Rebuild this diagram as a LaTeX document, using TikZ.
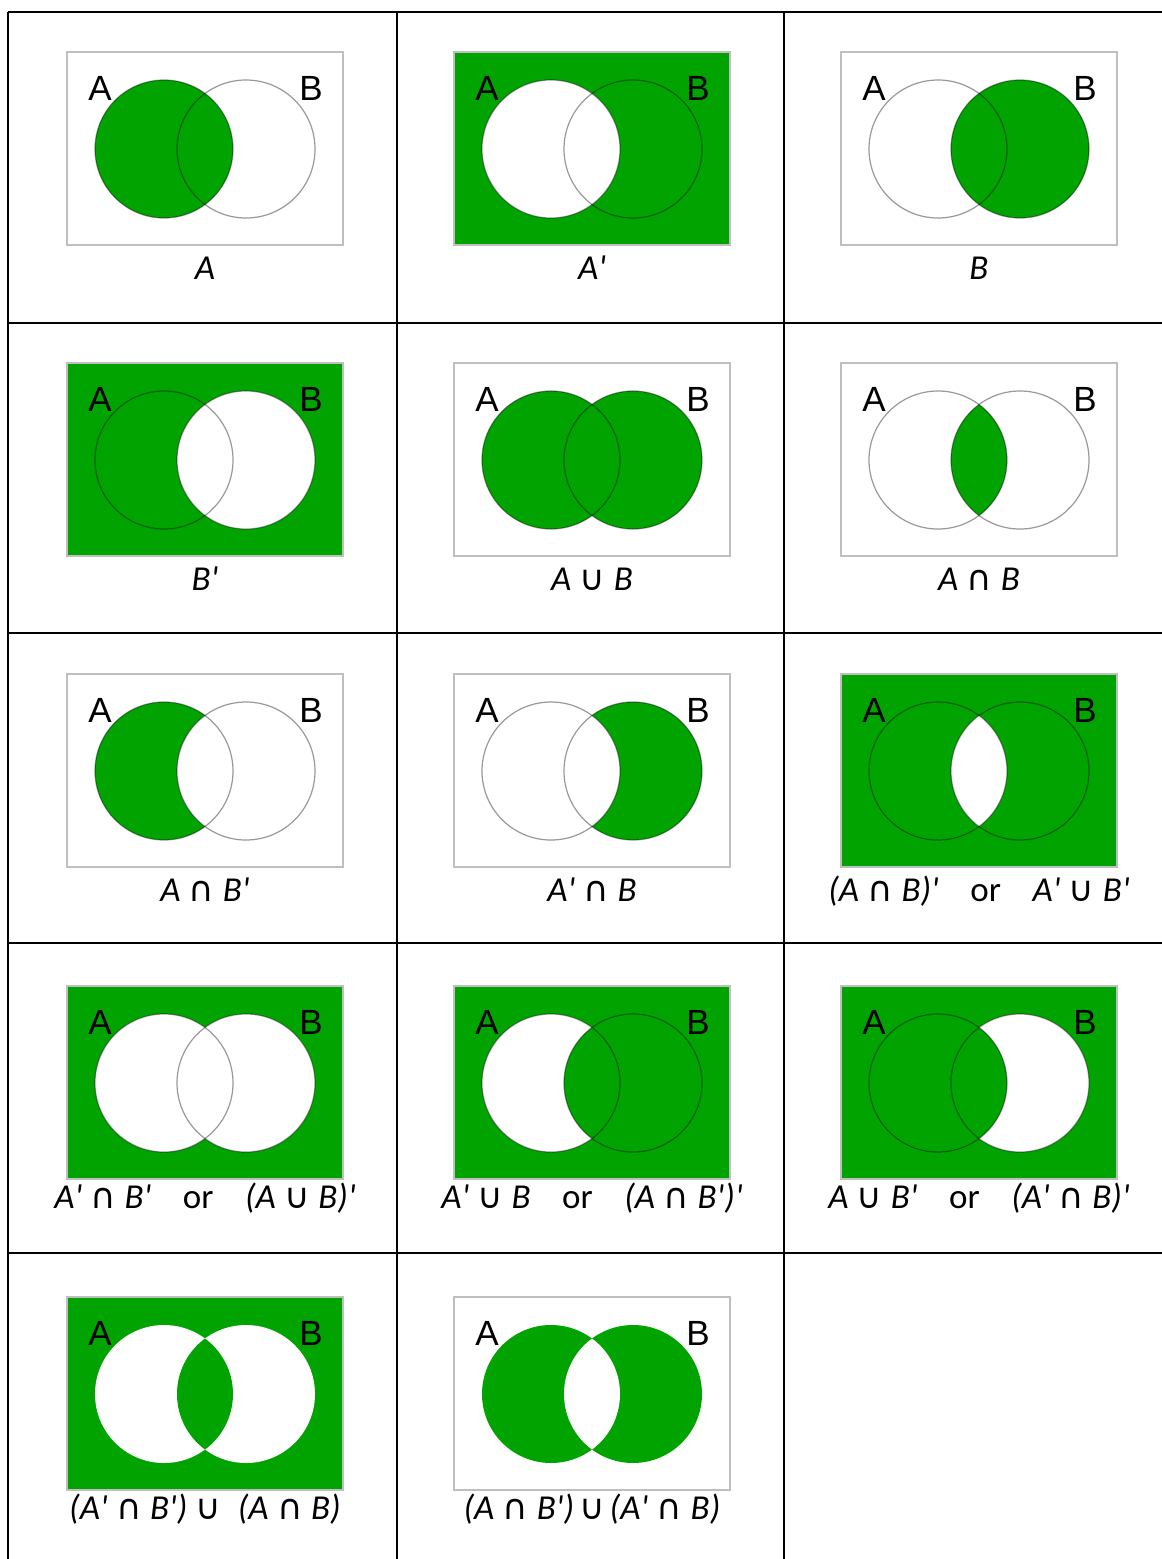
\documentclass[tikz,border=0pt]{standalone}
\usepackage{fontspec}
\setmainfont{Liberation Sans}
\newfontfamily\capfont{Carlito}
\newfontfamily\symfont{DejaVu Sans}
\usetikzlibrary{positioning}
\definecolor{venngreen}{RGB}{0,163,0}

\newcommand{\Icap}{\hspace{0.24em}{\symfont\upshape ∩}\hspace{0.24em}}
\newcommand{\Ucup}{\hspace{0.24em}{\symfont\upshape ∪}\hspace{0.24em}}
\newcommand{\pr}{\textquotesingle}
\newcommand{\alt}{\hspace{0.9em}{\upshape or}\hspace{0.9em}}
\newcommand{\setA}{(97,97) circle[radius=69]}
\newcommand{\setB}{(179,97) circle[radius=69]}
\newcommand{\univ}{(0,0) rectangle (276,193)}
\newcommand{\rings}{\draw[ring] \setA; \draw[ring] \setB;}
% one boxed Venn diagram: x, y, name, shading, caption
\newcommand{\venncell}[6][227]{%
  \begin{scope}[shift={(#2,#3)}]
    #5
    \draw[frame] \univ;
    \node[setlabel] (#4A) at (33,36) {A};
    \node[setlabel] (#4B) at (244,36) {B};
    \node[caption] (#4cap) at (138,#1) {#6};
  \end{scope}}

\begin{document}
\begin{tikzpicture}[
  x=0.5pt, y=-0.5pt,
  paint/.style={fill=venngreen},
  blank/.style={fill=white},
  ring/.style={draw=black, draw opacity=0.4, line width=0.6pt},
  frame/.style={draw=black!25, line width=0.8pt},
  rule/.style={draw=black, line width=1pt},
  setlabel/.style={inner sep=0pt, font=\fontsize{17.5}{20}\selectfont},
  caption/.style={inner sep=0pt, anchor=base, font=\capfont\itshape\fontsize{17.5}{20}\selectfont}
]
\useasboundingbox (0,0) rectangle (1162,1559);

% table rules
\foreach \gy in {12,323,633,943,1253}
  \draw[rule] (8,\gy) -- (1162,\gy);
\foreach \gx in {8,397,784}
  \draw[rule] (\gx,12) -- (\gx,1559);

% row 1
\venncell{67}{52}{a}{\fill[paint] \setA; \rings}{A}
\venncell{454}{52}{ac}{\fill[paint] \univ; \fill[blank] \setA; \rings}{A\pr}
\venncell{841}{52}{b}{\fill[paint] \setB; \rings}{B}
% row 2
\venncell{67}{363}{bc}{\fill[paint] \univ; \fill[blank] \setB; \rings}{B\pr}
\venncell{454}{363}{uni}{\fill[paint] \setA; \fill[paint] \setB; \rings}{A\Ucup B}
\venncell{841}{363}{int}{\begin{scope}\clip \setA; \fill[paint] \setB;\end{scope} \rings}{A\Icap B}
% row 3
\venncell{67}{674}{anb}{\fill[paint] \setA; \fill[blank] \setB; \rings}{A\Icap B\pr}
\venncell{454}{674}{bna}{\fill[paint] \setB; \fill[blank] \setA; \rings}{A\pr\Icap B}
\venncell{841}{674}{intc}{\fill[paint] \univ; \begin{scope}\clip \setA; \fill[blank] \setB;\end{scope} \rings}{(A\Icap B)\pr\alt A\pr\Ucup B\pr}
% row 4
\venncell[222]{67}{986}{unic}{\fill[paint] \univ; \fill[blank] \setA; \fill[blank] \setB; \rings}{A\pr\Icap B\pr\alt (A\Ucup B)\pr}
\venncell[222]{454}{986}{acub}{\fill[paint] \univ; \fill[blank] \setA; \fill[paint] \setB; \rings}{A\pr\Ucup B\alt (A\Icap B\pr)\pr}
\venncell[222]{841}{986}{aubc}{\fill[paint] \univ; \fill[blank] \setB; \fill[paint] \setA; \rings}{A\Ucup B\pr\alt (A\pr\Icap B)\pr}
% row 5
\venncell[222]{67}{1297}{same}{\fill[paint] \univ; \fill[blank] \setA; \fill[blank] \setB; \begin{scope}\clip \setA; \fill[paint] \setB;\end{scope}}{(A\pr\Icap B\pr)\Ucup\ (A\Icap B)}
\venncell[222]{454}{1297}{diff}{\fill[paint] \setA; \fill[paint] \setB; \begin{scope}\clip \setA; \fill[blank] \setB;\end{scope}}{(A\Icap B\pr)\hspace{-0.1em}\Ucup\hspace{-0.1em}(A\pr\Icap B)}
\end{tikzpicture}
\end{document}
